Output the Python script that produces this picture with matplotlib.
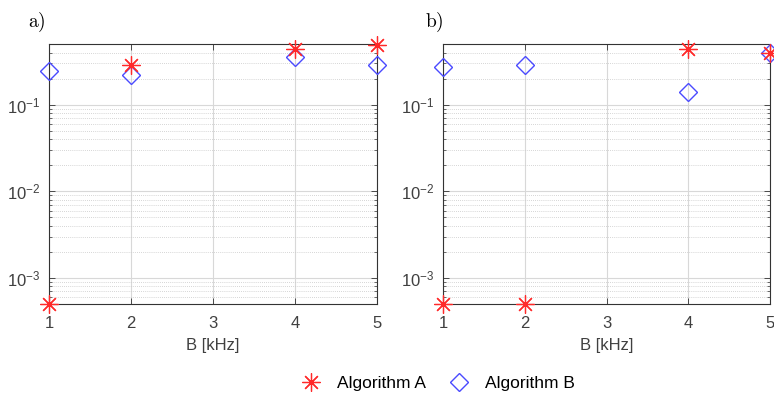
import matplotlib
matplotlib.use("Agg")
import matplotlib.pyplot as plt
from matplotlib.ticker import FixedLocator, FuncFormatter, LogLocator, NullFormatter
import numpy as np

plt.rcParams["font.family"] = ["Liberation Sans", "DejaVu Sans"]
plt.rcParams["mathtext.fontset"] = "custom"
plt.rcParams["mathtext.rm"] = "Liberation Sans"
plt.rcParams["mathtext.it"] = "Liberation Sans:italic"
plt.rcParams["mathtext.bf"] = "Liberation Sans:bold"

# Data
panels = ["a)", "b)"]
x_a_A = [1, 2, 4, 5]
y_a_A = [5e-4, 0.285, 0.436, 0.49]
x_a_B = [1, 2, 4, 5]
y_a_B = [0.243, 0.219, 0.351, 0.285]

x_b_A = [1, 2, 4, 5]
y_b_A = [5e-4, 5e-4, 0.44, 0.393]
x_b_B = [1, 2, 4, 5]
y_b_B = [0.27, 0.29, 0.142, 0.393]

xticks = [1, 2, 3, 4, 5]
yticks = [1e-3, 1e-2, 1e-1]
series_names = ["Algorithm A", "Algorithm B"]

red = "#ff2a2a"
blue = "#4a4aff"
tick_col = "#404040"

fig = plt.figure(figsize=(7.74, 4.01), dpi=100)
ax1 = fig.add_axes([0.0633, 0.2419, 0.424, 0.648])
ax2 = fig.add_axes([0.5724, 0.2419, 0.4225, 0.648])

asterisk = (8, 2, 0)

def style(ax, xa, ya, xb, yb):
    ax.set_yscale("log")
    ax.set_xlim(1, 5)
    ax.set_ylim(5e-4, 0.5)
    ha, = ax.plot(xa, ya, linestyle="none", marker=asterisk, markersize=13,
                  markeredgewidth=0.9, color=red, clip_on=False, zorder=5)
    hb, = ax.plot(xb, yb, linestyle="none", marker="D", markersize=9.5,
                  markerfacecolor="none", markeredgewidth=1.0, color=blue,
                  clip_on=False, zorder=4)
    ax.xaxis.set_major_locator(FixedLocator(xticks))
    ax.yaxis.set_major_locator(FixedLocator(yticks))
    ax.yaxis.set_minor_locator(LogLocator(base=10, subs=np.arange(2, 10), numticks=20))
    ax.yaxis.set_minor_formatter(NullFormatter())
    ax.yaxis.set_major_formatter(FuncFormatter(
        lambda v, p: r"$\mathregular{10^{%d}}$" % int(round(np.log10(v)))))
    ax.grid(True, which="major", color="#d8d8d8", linewidth=0.8, linestyle="-")
    ax.grid(True, which="minor", axis="y", color="#c8c8c8", linewidth=0.6, linestyle=(0, (1, 1.5)))
    ax.set_axisbelow(True)
    ax.tick_params(which="both", direction="in", top=True, right=True,
                   colors="#333333", labelcolor=tick_col, labelsize=12)
    ax.tick_params(axis="x", which="major", pad=9)
    ax.tick_params(axis="y", which="major", pad=6)
    ax.tick_params(which="major", length=4, width=0.6)
    ax.tick_params(which="minor", length=2, width=0.5)
    for s in ax.spines.values():
        s.set_color("#333333")
        s.set_linewidth(0.8)
    ax.set_xlabel("B [kHz]", fontsize=12, color=tick_col, labelpad=5)
    return ha, hb

ha, hb = style(ax1, x_a_A, y_a_A, x_a_B, y_a_B)
style(ax2, x_b_A, y_b_A, x_b_B, y_b_B)

fig.text(28 / 774, 1 - 22 / 401, r"$\mathrm{a)}$", fontsize=14, va="center", ha="left",
         math_fontfamily="cm")
fig.text(425 / 774, 1 - 22 / 401, r"$\mathrm{b)}$", fontsize=14, va="center", ha="left",
         math_fontfamily="cm")

fig.legend([ha, hb], series_names, loc="center", bbox_to_anchor=(0.566, 1 - 383 / 401),
           ncol=2, frameon=False, fontsize=12.5, handlelength=1.2, columnspacing=1.3,
           handletextpad=0.9)

fig.savefig("out.png", dpi=100)
